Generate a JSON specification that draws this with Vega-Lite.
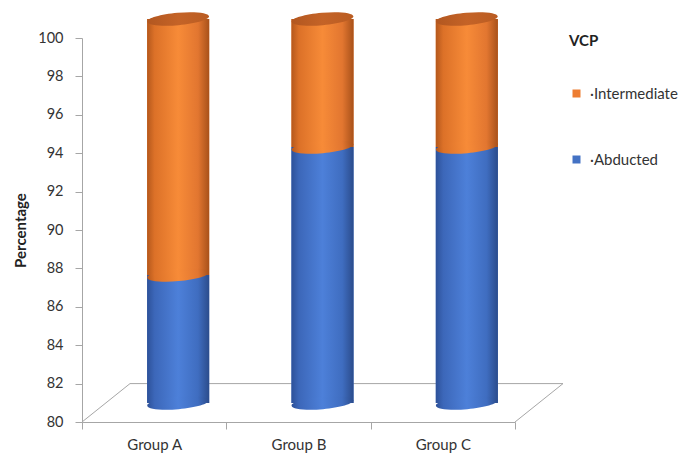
{
  "$schema": "https://vega.github.io/schema/vega-lite/v6.json",
  "width": 433,
  "height": 384,
  "autosize": {"type": "none"},
  "padding": {"left": 82, "top": 38, "right": 173, "bottom": 33},
  "background": "white",
  "config": {
    "view": {"stroke": null},
    "font": "Lato",
    "axisY": {
      "tickCount": 10,
      "grid": false,
      "domainColor": "#A6A6A6",
      "tickColor": "#A6A6A6",
      "tickSize": 7,
      "labelPadding": 12,
      "labelFontSize": 14.5,
      "labelColor": "#333333",
      "titleFontSize": 15,
      "titleFontWeight": "bold",
      "titleColor": "#222222",
      "titlePadding": 9
    }
  },
  "resolve": {"scale": {"x": "independent"}},
  "layer": [
    {
      "description": "Floor of the 3D plot: back edge and two side edges",
      "data": {"values": [{}]},
      "layer": [
        {
          "mark": {"type": "rule", "color": "#A6A6A6", "strokeWidth": 1, "xOffset": 48, "x2Offset": 48},
          "encoding": {
            "x": {"datum": 0, "type": "quantitative", "scale": {"domain": [0, 3], "nice": false, "zero": false}, "axis": null},
            "x2": {"datum": 3},
            "y": {"datum": 82, "type": "quantitative", "title": "Percentage", "scale": {"domain": [80, 100], "clamp": true, "nice": false, "zero": false}}
          }
        },
        {
          "mark": {"type": "rule", "color": "#A6A6A6", "strokeWidth": 1, "x2Offset": 48},
          "encoding": {
            "x": {"datum": 0, "type": "quantitative", "scale": {"domain": [0, 3], "nice": false, "zero": false}, "axis": null},
            "x2": {"datum": 0},
            "y": {"datum": 80, "type": "quantitative", "title": "Percentage", "scale": {"domain": [80, 100], "clamp": true, "nice": false, "zero": false}},
            "y2": {"datum": 82}
          }
        },
        {
          "mark": {"type": "rule", "color": "#A6A6A6", "strokeWidth": 1, "x2Offset": 48},
          "encoding": {
            "x": {"datum": 3, "type": "quantitative", "scale": {"domain": [0, 3], "nice": false, "zero": false}, "axis": null},
            "x2": {"datum": 3},
            "y": {"datum": 80, "type": "quantitative", "title": "Percentage", "scale": {"domain": [80, 100], "clamp": true, "nice": false, "zero": false}},
            "y2": {"datum": 82}
          }
        }
      ]
    },
    {
      "description": "Stacked cylinders",
      "data": {
        "values": [
          {"group": "Group A", "vcp": "Abducted", "value": 86.67},
          {"group": "Group A", "vcp": "Intermediate", "value": 13.33},
          {"group": "Group B", "vcp": "Abducted", "value": 93.33},
          {"group": "Group B", "vcp": "Intermediate", "value": 6.67},
          {"group": "Group C", "vcp": "Abducted", "value": 93.33},
          {"group": "Group C", "vcp": "Intermediate", "value": 6.67}
        ]
      },
      "transform": [
        {"stack": "value", "groupby": ["group"], "sort": [{"field": "vcp", "order": "ascending"}], "as": ["v0", "v1"]}
      ],
      "encoding": {
        "x": {
          "field": "group",
          "type": "nominal",
          "sort": null,
          "scale": {"paddingInner": 0, "paddingOuter": 0},
          "axis": {
            "title": null,
            "labelAngle": 0,
            "tickBand": "extent",
            "domainColor": "#A6A6A6",
            "tickColor": "#A6A6A6",
            "tickSize": 7,
            "labelPadding": 8,
            "labelFontSize": 15,
            "labelColor": "#333333",
            "grid": false
          }
        }
      },
      "layer": [
        {
          "mark": {"type": "bar", "width": {"band": 0.43}, "xOffset": 24, "x2Offset": 24, "yOffset": -19, "y2Offset": -19},
          "encoding": {
            "y": {"field": "v1", "type": "quantitative", "title": "Percentage", "scale": {"domain": [80, 100], "clamp": true, "nice": false, "zero": false}},
            "y2": {"field": "v0"},
            "color": {
              "field": "vcp",
              "type": "nominal",
              "scale": {"domain": ["Intermediate", "Abducted"], "range": ["#ED7D31", "#4472C4"]},
              "legend": {
                "title": "VCP",
                "orient": "none",
                "legendX": 487,
                "legendY": -4,
                "padding": 0,
                "symbolType": "square",
                "symbolSize": 64,
                "symbolStrokeWidth": 0,
                "labelExpr": "'·' + datum.label",
                "labelFontSize": 15,
                "labelColor": "#333333",
                "labelOffset": 6,
                "titleFontSize": 15,
                "titleFontWeight": "bold",
                "titleColor": "#222222",
                "titlePadding": 37,
                "rowPadding": 50
              }
            }
          }
        },
        {
          "transform": [{"filter": "datum.vcp === 'Abducted'"}],
          "mark": {
            "type": "bar", "width": {"band": 0.43}, "xOffset": 24, "x2Offset": 24, "yOffset": -19, "y2Offset": -19,
            "color": {"gradient": "linear", "x1": 0, "x2": 1, "y1": 0, "y2": 0,
              "stops": [
                {"offset": 0, "color": "#2D5199"},
                {"offset": 0.12, "color": "#3C67B9"},
                {"offset": 0.5, "color": "#4D80D9"},
                {"offset": 0.82, "color": "#3F6DC0"},
                {"offset": 1, "color": "#2B4C8C"}
              ]}
          },
          "encoding": {
            "y": {"field": "v1", "type": "quantitative", "title": "Percentage"},
            "y2": {"field": "v0"}
          }
        },
        {
          "transform": [{"filter": "datum.vcp === 'Intermediate'"}],
          "mark": {
            "type": "bar", "width": {"band": 0.43}, "xOffset": 24, "x2Offset": 24, "yOffset": -19, "y2Offset": -19,
            "color": {"gradient": "linear", "x1": 0, "x2": 1, "y1": 0, "y2": 0,
              "stops": [
                {"offset": 0, "color": "#B5581C"},
                {"offset": 0.12, "color": "#DC7128"},
                {"offset": 0.5, "color": "#F78B38"},
                {"offset": 0.82, "color": "#E27630"},
                {"offset": 1, "color": "#A8511A"}
              ]}
          },
          "encoding": {
            "y": {"field": "v1", "type": "quantitative", "title": "Percentage"},
            "y2": {"field": "v0"}
          }
        },
        {
          "description": "Rounded base of each cylinder",
          "transform": [{"filter": "datum.vcp === 'Abducted'"}],
          "mark": {
            "type": "point", "filled": true, "opacity": 1, "strokeWidth": 0, "size": 3844, "angle": -5,
            "xOffset": 24, "yOffset": -19,
            "shape": "M -1 0 C -1 -0.1105 -0.5523 -0.2 0 -0.2 C 0.5523 -0.2 1 -0.1105 1 0 C 1 0.1105 0.5523 0.2 0 0.2 C -0.5523 0.2 -1 0.1105 -1 0 Z",
            "fill": {"gradient": "linear", "x1": 0, "x2": 1, "y1": 0, "y2": 0,
              "stops": [
                {"offset": 0, "color": "#2D5199"},
                {"offset": 0.12, "color": "#3C67B9"},
                {"offset": 0.5, "color": "#4D80D9"},
                {"offset": 0.82, "color": "#3F6DC0"},
                {"offset": 1, "color": "#2B4C8C"}
              ]}
          },
          "encoding": {
            "y": {"field": "v0", "type": "quantitative", "title": "Percentage"}
          }
        },
        {
          "description": "Curved seam between the two segments",
          "transform": [{"filter": "datum.vcp === 'Intermediate'"}],
          "mark": {
            "type": "point", "filled": true, "opacity": 1, "strokeWidth": 0, "size": 3844, "angle": -5,
            "xOffset": 24, "yOffset": -19,
            "shape": "M -1 0 C -1 -0.1105 -0.5523 -0.2 0 -0.2 C 0.5523 -0.2 1 -0.1105 1 0 C 1 0.1105 0.5523 0.2 0 0.2 C -0.5523 0.2 -1 0.1105 -1 0 Z",
            "fill": {"gradient": "linear", "x1": 0, "x2": 1, "y1": 0, "y2": 0,
              "stops": [
                {"offset": 0, "color": "#B5581C"},
                {"offset": 0.12, "color": "#DC7128"},
                {"offset": 0.5, "color": "#F78B38"},
                {"offset": 0.82, "color": "#E27630"},
                {"offset": 1, "color": "#A8511A"}
              ]}
          },
          "encoding": {
            "y": {"field": "v0", "type": "quantitative", "title": "Percentage"}
          }
        },
        {
          "description": "Top face of each cylinder",
          "transform": [{"filter": "datum.vcp === 'Intermediate'"}],
          "mark": {
            "type": "point", "filled": true, "opacity": 1, "strokeWidth": 0, "size": 3844, "angle": -5,
            "xOffset": 24, "yOffset": -19,
            "shape": "M -1 0 C -1 -0.1105 -0.5523 -0.2 0 -0.2 C 0.5523 -0.2 1 -0.1105 1 0 C 1 0.1105 0.5523 0.2 0 0.2 C -0.5523 0.2 -1 0.1105 -1 0 Z",
            "fill": {"gradient": "linear", "x1": 0, "x2": 1, "y1": 0, "y2": 0,
              "stops": [
                {"offset": 0, "color": "#B25720"},
                {"offset": 0.5, "color": "#C46327"},
                {"offset": 1, "color": "#BA5C22"}
              ]}
          },
          "encoding": {
            "y": {"field": "v1", "type": "quantitative", "title": "Percentage"}
          }
        }
      ]
    }
  ]
}
